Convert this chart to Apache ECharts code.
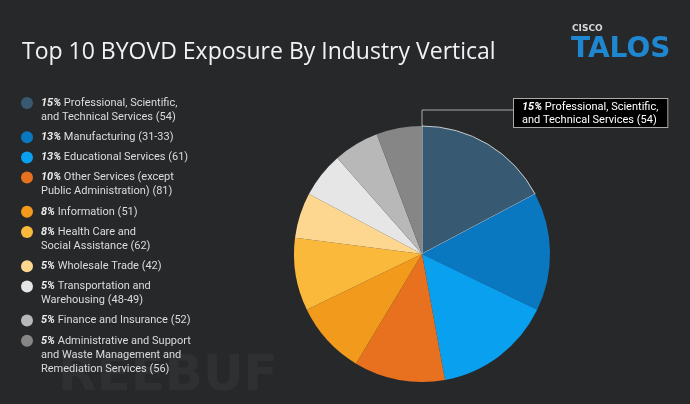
<!DOCTYPE html>
<html><head><meta charset="utf-8">
<script src="https://cdn.jsdelivr.net/npm/echarts@6/dist/echarts.min.js"></script>
<style>html,body{margin:0;padding:0;background:#27282a}#c{width:690px;height:404px}</style>
</head><body><div id="c"></div>
<script>
const titleText = 'Top 10 BYOVD Exposure By Industry Vertical';
const categories = [
  'Professional, Scientific,\nand Technical Services (54)',
  'Manufacturing (31-33)',
  'Educational Services (61)',
  'Other Services (except\nPublic Administration) (81)',
  'Information (51)',
  'Health Care and\nSocial Assistance (62)',
  'Wholesale Trade (42)',
  'Transportation and\nWarehousing (48-49)',
  'Finance and Insurance (52)',
  'Administrative and Support\nand Waste Management and\nRemediation Services (56)'
];
const percents = [15, 13, 13, 10, 8, 8, 5, 5, 5, 5];
const colors = ['#375a72', '#0a78c0', '#0aa0f0', '#e8711f', '#f19a1b', '#fbb93b', '#fdd790', '#e6e6e6', '#b8b8b8', '#868686'];

const PIE_C = [422, 254], PIE_R = 128;
const FONT = 'Roboto, "Liberation Sans", sans-serif';

const rich = {
  b: { fontWeight: 'bold', fontStyle: 'italic', color: '#ececec', fontSize: 11, lineHeight: 14, fontFamily: FONT },
  sp: { width: 8, height: 12, lineHeight: 14 },
  ind: { width: 20, height: 12, lineHeight: 14 }
};
colors.forEach((c, i) => {
  rich['dot' + i] = { width: 12, height: 12, borderRadius: 6, backgroundColor: c, lineHeight: 14 };
});

const chart = echarts.init(document.getElementById('c'));
chart.setOption({
  backgroundColor: '#27282a',
  animation: false,
  title: {
    text: titleText, left: 22, top: 41, padding: 0,
    textStyle: { color: '#f2f2f2', fontSize: 23, fontWeight: 'normal', fontFamily: '"Open Sans", sans-serif' }
  },
  legend: {
    orient: 'vertical', left: 16, top: 96, padding: 0, itemGap: 6.2,
    icon: 'none', itemWidth: 0, itemHeight: 12,
    selectedMode: false,
    data: categories,
    textStyle: { color: '#dcdcdc', fontSize: 11, lineHeight: 14, fontFamily: FONT, rich: rich },
    formatter: function (name) {
      const i = categories.indexOf(name);
      const lines = name.split('\n');
      return lines.map((l, k) => k === 0
        ? '{dot' + i + '|}{sp|}{b|' + percents[i] + '%} ' + l
        : '{ind|}' + l).join('\n');
    }
  },
  graphic: [
    { type: 'text', left: 572, top: 24, style: { text: 'CISCO', fill: '#d8d8d8', font: 'bold 9px "DejaVu Sans", sans-serif' } },
    { type: 'text', left: 571, top: 36, style: { text: 'TALOS', fill: '#1f87cf', font: 'bold 28px "DejaVu Sans", sans-serif' } },
    { type: 'text', left: 58, top: 352, style: { text: 'REEBUF', fill: 'rgba(255,255,255,0.04)', font: 'bold 50px "DejaVu Sans", sans-serif' } }
  ],
  series: [{
    type: 'pie',
    center: PIE_C,
    radius: PIE_R,
    startAngle: 90,
    clockwise: true,
    avoidLabelOverlap: false,
    emphasis: { disabled: true },
    label: { show: false },
    labelLine: { show: false },
    data: categories.map((n, i) => ({
      name: n,
      value: percents[i],
      itemStyle: i === 0
        ? { color: colors[i], borderColor: 'rgba(225,225,225,0.85)', borderWidth: 1 }
        : { color: colors[i], borderWidth: 0 },
      label: i === 0 ? {
        show: true,
        position: 'outside',
        formatter: '{b|' + percents[i] + '%} ' + n,
        color: '#ffffff', fontSize: 11, lineHeight: 12.5, fontFamily: FONT,
        backgroundColor: '#000000', borderColor: '#aaaaaa', borderWidth: 1,
        padding: [2, 9, 1, 8],
        rich: { b: { fontWeight: 'bold', fontStyle: 'italic', color: '#ffffff', fontSize: 11, lineHeight: 12.5, fontFamily: FONT } }
      } : { show: false },
      labelLine: i === 0 ? { show: true, lineStyle: { color: '#aaaaaa', width: 1 } } : { show: false }
    })),
    labelLayout: function (p) {
      if (p.dataIndex !== 0) return {};
      const x = 514, y = 99;
      const midY = y + 11;
      return {
        x: x, y: y, align: 'left', verticalAlign: 'top',
        labelLinePoints: [[PIE_C[0], PIE_C[1] - PIE_R], [PIE_C[0], midY], [x, midY]]
      };
    }
  }]
});
</script>
</body></html>
